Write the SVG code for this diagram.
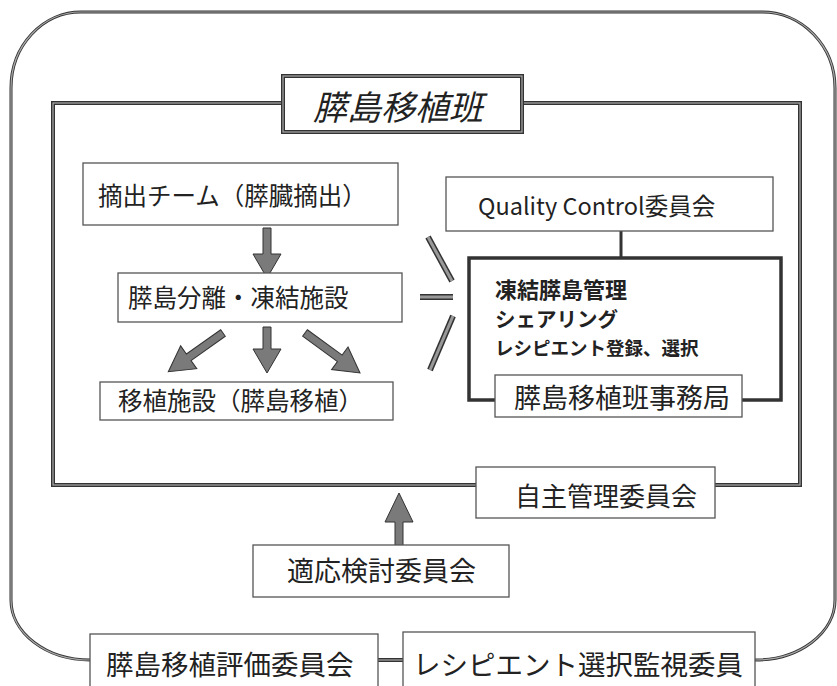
<svg xmlns="http://www.w3.org/2000/svg" width="837" height="686" viewBox="0 0 837 686">
<style>
.box{fill:#fff;stroke:#555;stroke-width:1.3}
.t{font-family:"Noto Sans CJK JP","Noto Sans",sans-serif;fill:#222}
.dbl{fill:none;stroke:#333;stroke-width:4}
.dbli{fill:none;stroke:#aaa;stroke-width:1.2}
.arr{fill:#7a7a7a;stroke:#333;stroke-width:1}
.br{stroke:#333;stroke-width:6;stroke-linecap:butt}
.bri{stroke:#999;stroke-width:3;stroke-linecap:butt}
</style>
<rect width="837" height="686" fill="#fff"/>
<g id="connectors">
  <path id="outer" class="dbl" style="stroke-width:3" d="M90 660 A79 60 0 0 1 11 600 L11 88 A70 76 0 0 1 81 12 L762 12 A73 76 0 0 1 835 88 L835 600 A80 60 0 0 1 755 660"/>
  <path class="dbli" d="M90 660 A79 60 0 0 1 11 600 L11 88 A70 76 0 0 1 81 12 L762 12 A73 76 0 0 1 835 88 L835 600 A80 60 0 0 1 755 660"/>
  <rect class="dbl" x="53" y="103" width="747" height="382"/>
  <rect class="dbli" x="53" y="103" width="747" height="382"/>
  <line x1="621" y1="231" x2="621" y2="258" stroke="#333" stroke-width="3"/>
  <rect class="dbl" style="stroke-width:3.5" x="469" y="258" width="312" height="142"/>
  <line x1="378" y1="660" x2="403" y2="660" stroke="#333" stroke-width="4"/>
  <line x1="378" y1="660" x2="403" y2="660" stroke="#aaa" stroke-width="1.2"/>
  <line class="br" x1="428" y1="237" x2="452" y2="281"/>
  <line class="bri" x1="428" y1="237" x2="452" y2="281"/>
  <line class="br" x1="420" y1="297" x2="453" y2="297"/>
  <line class="bri" x1="420" y1="297" x2="453" y2="297"/>
  <line class="br" x1="453" y1="316" x2="430" y2="370"/>
  <line class="bri" x1="453" y1="316" x2="430" y2="370"/>
  <path class="arr" transform="translate(267,228) rotate(90)" d="M0,-4 L26,-4 L26,-14 L50,0 L26,14 L26,4 L0,4Z"/>
  <path class="arr" transform="translate(267,327) rotate(90)" d="M0,-4 L22,-4 L22,-14 L46,0 L22,14 L22,4 L0,4Z"/>
  <path class="arr" transform="translate(223,333) rotate(144.7)" d="M0,-4 L42,-4 L42,-14 L67,0 L42,14 L42,4 L0,4Z"/>
  <path class="arr" transform="translate(305,333) rotate(36)" d="M0,-4 L43,-4 L43,-14 L68,0 L43,14 L43,4 L0,4Z"/>
  <path class="arr" transform="translate(399,546) rotate(-90)" d="M0,-4 L24,-4 L24,-14 L53,0 L24,14 L24,4 L0,4Z"/>
</g>
<g id="title">
  <rect x="283" y="76" width="239" height="56" fill="#fff" stroke="#333" stroke-width="4"/>
  <rect x="283" y="76" width="239" height="56" fill="none" stroke="#aaa" stroke-width="1.2"/>
  <text class="t" x="398" y="120" font-size="34" font-style="italic" text-anchor="middle">膵島移植班</text>
</g>
<g id="n-tekishutsu">
  <rect class="box" x="83" y="163" width="315" height="62"/>
  <text class="t" x="98" y="205" font-size="24.5">摘出チーム（膵臓摘出）</text>
</g>
<g id="n-bunri">
  <rect class="box" x="118" y="273" width="284" height="49"/>
  <text class="t" x="128" y="307" font-size="24.5">膵島分離・凍結施設</text>
</g>
<g id="n-ishoku">
  <rect class="box" x="100" y="382" width="293" height="38"/>
  <text class="t" x="118" y="410" font-size="24.5">移植施設（膵島移植）</text>
</g>
<g id="n-qc">
  <rect class="box" x="446" y="177" width="327" height="54"/>
  <text class="t" x="478" y="215" font-size="23.5">Quality Control委員会</text>
</g>
<g id="n-kanri-text">
  <text class="t" x="495" y="298" font-size="22" font-weight="bold">凍結膵島管理</text>
  <text class="t" x="495" y="327" font-size="20.5" font-weight="bold">シェアリング</text>
  <text class="t" x="495" y="355" font-size="18.5" font-weight="bold">レシピエント登録、選択</text>
</g>
<g id="n-jimukyoku">
  <rect class="box" x="495" y="375" width="247" height="42"/>
  <text class="t" x="514" y="408" font-size="27">膵島移植班事務局</text>
</g>
<g id="n-jishu">
  <rect class="box" x="476" y="467" width="239" height="51"/>
  <text class="t" x="515" y="506" font-size="26">自主管理委員会</text>
</g>
<g id="n-tekiou">
  <rect class="box" x="253" y="545" width="256" height="52"/>
  <text class="t" x="287" y="581" font-size="27">適応検討委員会</text>
</g>
<g id="n-hyouka">
  <rect class="box" x="90" y="634" width="288" height="70"/>
  <text class="t" x="106" y="675" font-size="27.5">膵島移植評価委員会</text>
</g>
<g id="n-kanshi">
  <rect class="box" x="403" y="632" width="352" height="72"/>
  <text class="t" x="413" y="675" font-size="27.5">レシピエント選択監視委員</text>
</g>
</svg>
